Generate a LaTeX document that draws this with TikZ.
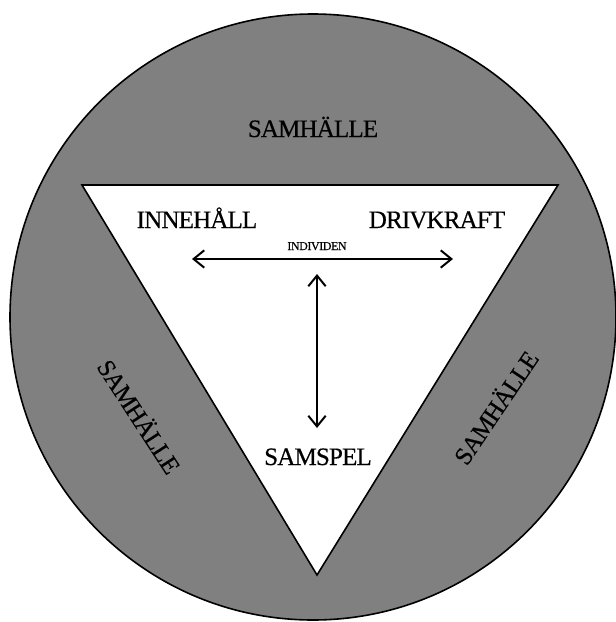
\documentclass[tikz,border=0pt]{standalone}
\usepackage{fontspec}
\usepackage{graphicx}
\setmainfont{Liberation Serif}[LetterSpace=-3.5, FakeBold=0.4]
\usetikzlibrary{arrows.meta}
\definecolor{bggray}{RGB}{128,128,128}
\tikzset{
  biglabel/.style={font=\fontsize{18.8}{20}\selectfont, inner sep=0pt, text=black},
  smalllabel/.style={font=\fontsize{9}{10}\selectfont, inner sep=0pt, text=black},
  arrowline/.style={line width=1.5pt, {Straight Barb[length=8pt,width=13pt]}-{Straight Barb[length=8pt,width=13pt]}},
}
\begin{document}
\begin{tikzpicture}[x=0.75pt,y=-0.75pt]
\useasboundingbox (0,0) rectangle (616,622);
\fill[white] (0,0) rectangle (616,622);
\node[circle, draw=black, line width=1.2pt, fill=bggray, minimum size=606*0.75pt, inner sep=0pt] (society) at (313,317) {};
\coordinate (tl) at (82,185);
\coordinate (tr) at (558,185);
\coordinate (tb) at (317,575);
\draw[line width=1.2pt, fill=white, line join=miter] (tl) -- (tr) -- (tb) -- cycle;
\node[biglabel, anchor=base] (top) at (313,137) {SAMHÄLLE};
\node[biglabel, anchor=center, rotate=-57] (left) at (140,416) {SAMHÄLLE};
\node[biglabel, anchor=center, rotate=56] (right) at (495,407) {SAMHÄLLE};
\node[biglabel, anchor=base] (innehall) at (197,228) {INNEHÅLL};
\node[biglabel, anchor=base] (drivkraft) at (437,228) {DRIVKRAFT};
\node[smalllabel, anchor=base] (individen) at (317,250) {INDIVIDEN};
\node[biglabel, anchor=base] (samspel) at (318,465) {SAMSPEL};
\coordinate (hl) at (192,259);
\coordinate (hr) at (453,259);
\coordinate (vt) at (317,274);
\coordinate (vb) at (317,428);
\draw[arrowline] (hl) -- (hr);
\draw[arrowline] (vt) -- (vb);
\end{tikzpicture}
\end{document}
